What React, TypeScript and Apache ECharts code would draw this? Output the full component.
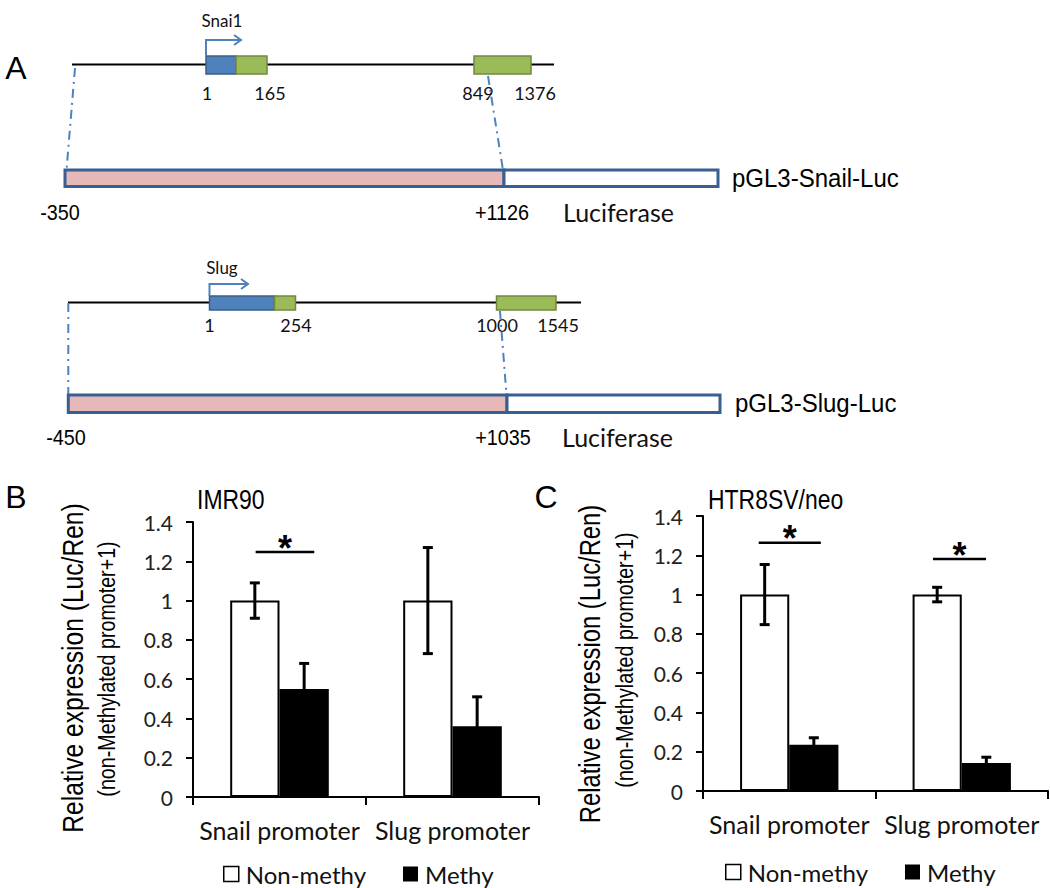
import React, { useEffect, useRef } from "react";
import * as echarts from "echarts";

// ---------- data ----------
const categories = ["Snail promoter", "Slug promoter"];
const legendNames = ["Non-methy", "Methy"];

const imrNon = [1.0, 1.0];
const imrNonErr = [0.09, 0.27];
const imrMethy = [0.55, 0.36];
const imrMethyErr = [0.13, 0.15];

const htrNon = [1.0, 1.0];
const htrNonErr = [0.153, 0.037];
const htrMethy = [0.235, 0.143];
const htrMethyErr = [0.036, 0.029];

// significance brackets: category, level, span (in category units)
const imrSig = [{ cat: 0, y: 1.247, from: -0.138, to: 0.201 }];
const htrSig = [
  { cat: 0, y: 1.264, from: -0.177, to: 0.183 },
  { cat: 1, y: 1.181, from: -0.167, to: 0.141 },
];

const yMin = 0;
const yMax = 1.4;
const yStep = 0.2;

// ---------- style constants ----------
const CAT_GAP = 0.43;
const NARROW = 0.82;
const SANS = "Liberation Sans";
const CAL = "Lato";
const BLUE_LINE = "#4F81BD";
const OUTLINE = "#375F92";

function errorRenderer(sign: number) {
  return (params: any, api: any) => {
    const cat = api.value(0);
    const val = api.value(1);
    const err = api.value(2);
    const c = api.coord([cat, val]);
    const catW = api.size([1, 0])[0];
    const barW = (catW * (1 - CAT_GAP)) / 2;
    const x = c[0] + (sign * barW) / 2;
    const top = api.coord([cat, val + err])[1];
    const bot = api.coord([cat, val - err])[1];
    const cap = 5;
    const st = { stroke: "#000", lineWidth: 3 };
    return {
      type: "group",
      children: [
        { type: "line", shape: { x1: x, y1: top, x2: x, y2: bot }, style: st },
        { type: "line", shape: { x1: x - cap, y1: top, x2: x + cap, y2: top }, style: st },
        { type: "line", shape: { x1: x - cap, y1: bot, x2: x + cap, y2: bot }, style: st },
      ],
    };
  };
}

function sigRenderer(params: any, api: any) {
  const cat = api.value(0);
  const y = api.value(1);
  const from = api.value(2);
  const to = api.value(3);
  const c = api.coord([cat, y]);
  const catW = api.size([1, 0])[0];
  const x1 = c[0] + from * catW;
  const x2 = c[0] + to * catW;
  return {
    type: "group",
    children: [
      { type: "line", shape: { x1, y1: c[1], x2, y2: c[1] }, style: { stroke: "#000", lineWidth: 2.5 } },
      {
        type: "text",
        x: (x1 + x2) / 2,
        y: c[1] - 4,
        style: {
          text: "*",
          fill: "#000",
          font: `bold 36px ${SANS}`,
          align: "center",
          verticalAlign: "middle",
        },
      },
    ],
  };
}

function txt(text: string, x: number, y: number, size: number, opts: any = {}) {
  return {
    type: "text",
    x,
    y,
    rotation: opts.rotation || 0,
    scaleX: opts.scaleX || 1,
    style: {
      text,
      fill: opts.color || "#000",
      font: `${opts.weight || "normal"} ${size}px ${opts.family || SANS}`,
      align: opts.align || "center",
      verticalAlign: "middle",
    },
  };
}

function geneRow(o: any) {
  const els: any[] = [];
  els.push({ type: "line", shape: { x1: o.lineX1, y1: o.lineY, x2: o.lineX2, y2: o.lineY }, style: { stroke: "#000", lineWidth: 2 } });
  els.push({ type: "rect", shape: { x: o.blue[0], y: o.boxY, width: o.blue[1], height: o.boxH }, style: { fill: "#4F81BD", stroke: "#385D8A", lineWidth: 1.5 } });
  els.push({ type: "rect", shape: { x: o.g1[0], y: o.boxY, width: o.g1[1], height: o.boxH }, style: { fill: "#9BBB59", stroke: "#71893F", lineWidth: 1.5 } });
  els.push({ type: "rect", shape: { x: o.g2[0], y: o.boxY, width: o.g2[1], height: o.boxH }, style: { fill: "#9BBB59", stroke: "#71893F", lineWidth: 1.5 } });
  els.push({ type: "polyline", shape: { points: [[o.blue[0], o.boxY], [o.blue[0], o.arrowY], [o.arrowX, o.arrowY]] }, style: { stroke: BLUE_LINE, lineWidth: 2, fill: "none" } });
  els.push({ type: "polyline", shape: { points: [[o.arrowX - 7, o.arrowY - 5], [o.arrowX, o.arrowY], [o.arrowX - 7, o.arrowY + 5]] }, style: { stroke: BLUE_LINE, lineWidth: 2, fill: "none" } });
  els.push(txt(o.gene, o.geneX, o.geneY, 17, { family: CAL, color: "#111" }));
  o.nums.forEach((n: any) => els.push(txt(n[0], n[1], o.numY, 18, { family: CAL, color: "#111" })));
  o.dash.forEach((d: any) => els.push({ type: "line", shape: { x1: d[0], y1: d[1], x2: d[2], y2: d[3] }, style: { stroke: BLUE_LINE, lineWidth: 2, lineDash: [9, 5, 2, 5] } }));
  els.push({ type: "rect", shape: { x: o.barX1, y: o.barY, width: o.barX2 - o.barX1, height: o.barH }, style: { fill: "#E6B9B8", stroke: OUTLINE, lineWidth: 3 } });
  els.push({ type: "rect", shape: { x: o.barX2, y: o.barY, width: o.barX3 - o.barX2, height: o.barH }, style: { fill: "#fff", stroke: OUTLINE, lineWidth: 3 } });
  els.push(txt(o.left, o.leftX, o.posY, 22, { scaleX: 0.9 }));
  els.push(txt(o.right, o.rightX, o.posY, 22, { scaleX: 0.9 }));
  els.push(txt("Luciferase", o.lucX, o.posY, 25, { family: CAL, align: "left", color: "#111" }));
  els.push(txt(o.construct, o.conX, o.barY + o.barH / 2, 25, { align: "left", scaleX: 0.96 }));
  return els;
}

export default function App() {
  const ref = useRef<HTMLDivElement>(null);
  useEffect(() => {
    if (!ref.current) return;
    const chart = echarts.init(ref.current, undefined, { renderer: "svg" });

    const axisCommon = {
      axisLine: { show: true, lineStyle: { color: "#000", width: 2 } },
      splitLine: { show: false },
    };

    const graphics: any[] = [];
    graphics.push(txt("A", 16, 68, 32));
    graphics.push(txt("B", 16, 497, 32));
    graphics.push(txt("C", 546, 497, 32));
    graphics.push(
      ...geneRow({
        lineX1: 72, lineX2: 554, lineY: 64.5,
        boxY: 56, boxH: 18,
        blue: [206, 30], g1: [236, 31], g2: [474, 57],
        arrowY: 40, arrowX: 241,
        gene: "Snai1", geneX: 222, geneY: 20,
        numY: 93, nums: [["1", 207], ["165", 270], ["849", 478], ["1376", 535]],
        dash: [[75, 68, 66.5, 170], [488, 76, 503, 170]],
        barX1: 65, barX2: 504, barX3: 718, barY: 170, barH: 16.5,
        left: "-350", leftX: 60, right: "+1126", rightX: 502, posY: 212,
        lucX: 563, construct: "pGL3-Snail-Luc", conX: 732,
      })
    );
    graphics.push(
      ...geneRow({
        lineX1: 68, lineX2: 581, lineY: 302.5,
        boxY: 296, boxH: 14,
        blue: [209.5, 65], g1: [274.5, 21], g2: [496.5, 59.5],
        arrowY: 284, arrowX: 248,
        gene: "Slug", geneX: 222, geneY: 267,
        numY: 325, nums: [["1", 209.5], ["254", 296], ["1000", 497], ["1545", 558]],
        dash: [[68.3, 303, 68.3, 395], [500, 311, 506.5, 395]],
        barX1: 68.3, barX2: 507, barX3: 720, barY: 395, barH: 17.5,
        left: "-450", leftX: 66, right: "+1035", rightX: 503, posY: 437,
        lucX: 562, construct: "pGL3-Slug-Luc", conX: 735,
      })
    );
    // chart titles and axis names
    graphics.push(txt("IMR90", 197, 499, 28, { align: "left", scaleX: NARROW }));
    graphics.push(txt("HTR8SV/neo", 708, 499, 28, { align: "left", scaleX: NARROW }));
    graphics.push(txt("Relative expression (Luc/Ren)", 73, 668, 30, { rotation: Math.PI / 2, scaleX: NARROW }));
    graphics.push(txt("(non-Methylated promoter+1)", 107, 669, 24, { rotation: Math.PI / 2, scaleX: NARROW }));
    graphics.push(txt("Relative expression (Luc/Ren)", 590, 664, 29, { rotation: Math.PI / 2, scaleX: NARROW }));
    graphics.push(txt("(non-Methylated promoter+1)", 625, 660, 24, { rotation: Math.PI / 2, scaleX: NARROW }));

    const mkErr = (vals: number[], errs: number[]) => vals.map((v, i) => [i, v, errs[i]]);
    const mkSig = (s: any[]) => s.map((d) => [d.cat, d.y, d.from, d.to]);

    const legendItem = (name: string, left: number, top: number) => ({
      left,
      top,
      padding: 0,
      itemWidth: 15,
      itemHeight: 15,
      icon: "rect",
      selectedMode: false,
      data: [
        {
          name,
          itemStyle:
            name === legendNames[0]
              ? { color: "#fff", borderColor: "#000", borderWidth: 1.5 }
              : { color: "#000", borderWidth: 0 },
        },
      ],
      textStyle: { fontFamily: CAL, fontSize: 24, lineHeight: 24, color: "#111", padding: [0, 0, 0, 2] },
    });

    chart.setOption({
      animation: false,
      backgroundColor: "#fff",
      grid: [
        { left: 193, top: 522, width: 346, height: 275 },
        { left: 703, top: 516, width: 345, height: 275 },
      ],
      xAxis: [0, 1].map((g) => ({
        type: "category",
        gridIndex: g,
        data: categories,
        ...axisCommon,
        axisTick: { show: true, length: 8, lineStyle: { color: "#000", width: 2 } },
        axisLabel: { interval: 0, margin: 20, fontFamily: CAL, fontSize: 25, color: "#111" },
      })),
      yAxis: [0, 1].map((g) => ({
        type: "value",
        gridIndex: g,
        min: yMin,
        max: yMax,
        interval: yStep,
        ...axisCommon,
        axisTick: { show: true, length: 7, lineStyle: { color: "#000", width: 2 } },
        axisLabel: { margin: 20, fontFamily: CAL, fontSize: 21, color: "#222" },
      })),
      legend: [
        legendItem(legendNames[0], 223, 862),
        legendItem(legendNames[1], 403, 862),
        legendItem(legendNames[0], 725, 860),
        legendItem(legendNames[1], 905, 860),
      ],
      graphic: graphics,
      series: [
        { type: "bar", name: legendNames[0], xAxisIndex: 0, yAxisIndex: 0, data: imrNon, barGap: "0%", barCategoryGap: `${CAT_GAP * 100}%`, itemStyle: { color: "#fff", borderColor: "#000", borderWidth: 2 } },
        { type: "bar", name: legendNames[1], xAxisIndex: 0, yAxisIndex: 0, data: imrMethy, barGap: "0%", barCategoryGap: `${CAT_GAP * 100}%`, itemStyle: { color: "#000" } },
        { type: "bar", name: legendNames[0], xAxisIndex: 1, yAxisIndex: 1, data: htrNon, barGap: "0%", barCategoryGap: `${CAT_GAP * 100}%`, itemStyle: { color: "#fff", borderColor: "#000", borderWidth: 2 } },
        { type: "bar", name: legendNames[1], xAxisIndex: 1, yAxisIndex: 1, data: htrMethy, barGap: "0%", barCategoryGap: `${CAT_GAP * 100}%`, itemStyle: { color: "#000" } },
        { type: "custom", xAxisIndex: 0, yAxisIndex: 0, z: 5, renderItem: errorRenderer(-1), data: mkErr(imrNon, imrNonErr) },
        { type: "custom", xAxisIndex: 0, yAxisIndex: 0, z: 5, renderItem: errorRenderer(1), data: mkErr(imrMethy, imrMethyErr) },
        { type: "custom", xAxisIndex: 1, yAxisIndex: 1, z: 5, renderItem: errorRenderer(-1), data: mkErr(htrNon, htrNonErr) },
        { type: "custom", xAxisIndex: 1, yAxisIndex: 1, z: 5, renderItem: errorRenderer(1), data: mkErr(htrMethy, htrMethyErr) },
        { type: "custom", xAxisIndex: 0, yAxisIndex: 0, z: 5, renderItem: sigRenderer, data: mkSig(imrSig) },
        { type: "custom", xAxisIndex: 1, yAxisIndex: 1, z: 5, renderItem: sigRenderer, data: mkSig(htrSig) },
      ],
    });
    return () => chart.dispose();
  }, []);
  return <div ref={ref} style={{ position: "fixed", left: 0, top: 0, width: 1050, height: 888 }} />;
}
